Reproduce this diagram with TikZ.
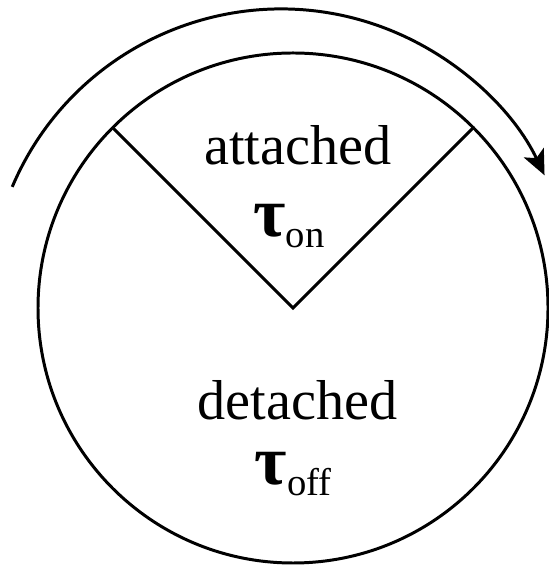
\documentclass[tikz,border=0pt]{standalone}
\usepackage{fontspec}
\setmainfont{Liberation Serif}
\usetikzlibrary{arrows.meta}

\newcommand{\taulbl}[1]{{\fontsize{40}{40}\selectfont\bfseries τ}\raisebox{-6pt}{\fontsize{22}{22}\selectfont #1}}

\begin{document}
\begin{tikzpicture}[
  ring/.style={line width=1.7pt},
  cycle/.style={line width=1.7pt, -{Stealth[length=5mm, width=4.4mm, inset=1.2mm]}},
  state/.style={anchor=base, inner sep=0pt, font=\fontsize{32}{32}\selectfont},
  rate/.style={anchor=base, inner sep=0pt}
]
\useasboundingbox (0,0) rectangle (10.98,11.32);

% --- circle and wedge ---
\coordinate (ctr) at (5.86,5.16);
\coordinate (wl) at ([shift={(135:5.1)}]ctr);
\coordinate (wr) at ([shift={(45:5.1)}]ctr);
\draw[ring] (ctr) circle[radius=5.1];
\draw[ring] (wl) -- (ctr) -- (wr);

% --- cycle arrow ---
\coordinate (octr) at (5.62,5.30);
\coordinate (cstart) at ([shift={(157:5.84)}]octr);
\draw[cycle] (cstart) arc[start angle=157, end angle=25.5, radius=5.84];

% --- labels ---
\node[state] (att) at (5.96,8.02) {attached};
\node[rate] (ton) at (5.78,6.58) {\taulbl{on}};
\node[state] (det) at (5.95,2.92) {detached};
\node[rate] (toff) at (5.86,1.62) {\taulbl{off}};

\end{tikzpicture}
\end{document}
